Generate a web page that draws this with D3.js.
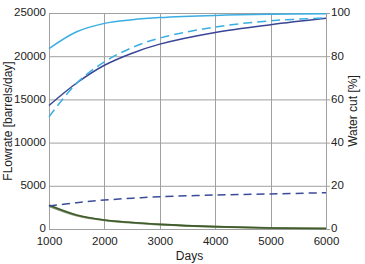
<!DOCTYPE html>
<html>
<head>
<meta charset="utf-8">
<script src="https://cdn.jsdelivr.net/npm/d3@7"></script>
<style>
  body { margin: 0; background: #fff; }
  svg text { font-family: "Liberation Sans", Arial, sans-serif; fill: #222; }
</style>
</head>
<body>
<script>
// data
var days = [1000, 1500, 2000, 2500, 3000, 4000, 5000, 6000];
var wcutA = [83.5, 91.3, 95.2, 96.9, 97.9, 98.9, 99.4, 99.6];      // light blue solid [%]
var wcutB = [51.9, 67.5, 77.4, 84.0, 88.4, 93.5, 96.4, 97.7];      // light blue dashed [%]
var waterRate = [14300, 16900, 18950, 20350, 21400, 22750, 23650, 24390]; // navy solid
var gasRate = [2660, 3050, 3350, 3560, 3730, 3930, 4060, 4200];    // navy dashed
var oilRate = [2770, 1620, 1040, 760, 540, 270, 120, 60];          // green
var oilRate2 = [2650, 1550, 1000, 730, 520, 260, 115, 55];
var xTicks = [1000, 2000, 3000, 4000, 5000, 6000];
var yTicks = [0, 5000, 10000, 15000, 20000, 25000];
var y2Ticks = [0, 20, 40, 60, 80, 100];

var margin = {top: 13, right: 39, bottom: 35, left: 49},
    width = 365 - margin.left - margin.right,
    height = 264 - margin.top - margin.bottom;

var x = d3.scaleLinear().domain([1000, 6000]).range([0, width]);
var y = d3.scaleLinear().domain([0, 25000]).range([height, 0]);
var y2 = d3.scaleLinear().domain([0, 100]).range([height, 0]);

var svg = d3.select("body").append("svg")
    .attr("width", 365)
    .attr("height", 264)
  .append("g")
    .attr("transform", "translate(" + margin.left + "," + margin.top + ")");

// grid
svg.selectAll(".hgrid").data(yTicks).enter().append("line")
  .attr("x1", 0).attr("x2", width)
  .attr("y1", function(d) { return y(d) + 0.5; })
  .attr("y2", function(d) { return y(d) + 0.5; })
  .attr("stroke", "#a0a0a0").attr("stroke-width", 1);
svg.selectAll(".vgrid").data(xTicks).enter().append("line")
  .attr("x1", function(d) { return Math.round(x(d)) + 0.5; })
  .attr("x2", function(d) { return Math.round(x(d)) + 0.5; })
  .attr("y1", 0).attr("y2", height)
  .attr("stroke", "#a0a0a0").attr("stroke-width", 1);

// axes
var xAxis = svg.append("g")
  .attr("transform", "translate(0," + height + ")")
  .call(d3.axisBottom(x).tickValues(xTicks).tickSize(0).tickPadding(8).tickFormat(d3.format("d")));
var yAxis = svg.append("g")
  .call(d3.axisLeft(y).tickValues(yTicks).tickSize(0).tickPadding(3).tickFormat(d3.format("d")));
var y2Axis = svg.append("g")
  .attr("transform", "translate(" + width + ",0)")
  .call(d3.axisRight(y2).tickValues(y2Ticks).tickSize(4).tickPadding(1));
[xAxis, yAxis, y2Axis].forEach(function(a) {
  a.select(".domain").remove();
  a.selectAll("text").style("font-size", "11.5px").attr("fill", "#222");
  a.selectAll(".tick line").attr("stroke", "#a0a0a0");
});
yAxis.selectAll(".tick text").attr("dy", "0.25em");
y2Axis.selectAll(".tick text").attr("dy", "0.25em");

function lineFor(vals, scale) {
  return d3.line()
    .curve(d3.curveCatmullRom.alpha(0.5))
    .x(function(d, i) { return x(days[i]); })
    .y(function(d) { return scale(d); })(vals);
}

// lines
svg.append("path").attr("d", lineFor(oilRate2, y))
  .attr("fill", "none").attr("stroke", "#7d8f6e").attr("stroke-width", 2);
svg.append("path").attr("d", lineFor(oilRate, y))
  .attr("fill", "none").attr("stroke", "#3f5c2a").attr("stroke-width", 1.6);
svg.append("path").attr("d", lineFor(gasRate, y))
  .attr("fill", "none").attr("stroke", "#3a4b9a").attr("stroke-width", 1.5)
  .style("stroke-dasharray", "8, 5");
svg.append("path").attr("d", lineFor(waterRate, y))
  .attr("fill", "none").attr("stroke", "#3a4595").attr("stroke-width", 1.5);
svg.append("path").attr("d", lineFor(wcutB, y2))
  .attr("fill", "none").attr("stroke", "#3aaee2").attr("stroke-width", 1.5)
  .style("stroke-dasharray", "9, 5");
svg.append("path").attr("d", lineFor(wcutA, y2))
  .attr("fill", "none").attr("stroke", "#3aaee2").attr("stroke-width", 1.5);

// titles
svg.append("text")
  .attr("transform", "translate(" + (-37) + "," + (height / 2) + ") rotate(-90)")
  .attr("text-anchor", "middle")
  .style("font-size", "12px")
  .text("FLowrate [barrels/day]");
svg.append("text")
  .attr("transform", "translate(" + (width + 31) + "," + (height / 2 - 10) + ") rotate(-90)")
  .attr("text-anchor", "middle")
  .style("font-size", "12px")
  .text("Water cut [%]");
svg.append("text")
  .attr("x", x(3500) + 2).attr("y", height + 31)
  .attr("text-anchor", "middle")
  .style("font-size", "12px")
  .text("Days");
</script>
</body>
</html>
